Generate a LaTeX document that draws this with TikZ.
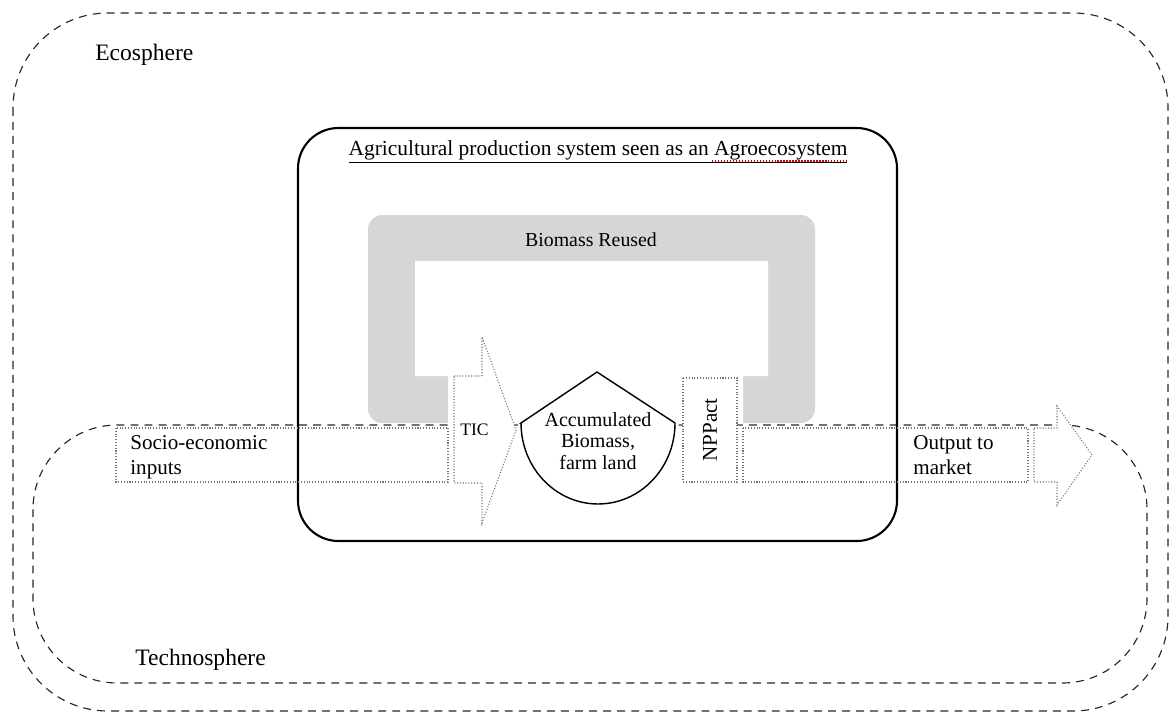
\documentclass[tikz,border=0pt]{standalone}
\usepackage{fontspec}
\setmainfont{Liberation Serif}
\usetikzlibrary{calc}
\tikzset{
    sphere/.style = {dash pattern=on 4.5pt off 3.5pt, line width=0.65pt, black!85},
    flowbox/.style = {densely dotted, line width=0.6pt, black!55},
    txt/.style = {font=\fontsize{12}{14.2}\selectfont, align=left, inner sep=0pt},
    bigtxt/.style = {txt, font=\fontsize{13.4}{16}\selectfont},
}
\definecolor{reusegray}{RGB}{214,214,214}

\begin{document}
\begin{tikzpicture}[x=0.02cm,y=-0.02cm]
\useasboundingbox (0,0) rectangle (1169,713);

% ecosphere and technosphere
\draw[sphere,rounded corners=54pt] (13,13) rectangle (1168,711);
\draw[sphere,rounded corners=48pt] (33,425) rectangle (1147,683);
\node[bigtxt,anchor=west] (eco) at (95,55) {Ecosphere};
\node[bigtxt,anchor=west] (techno) at (135,660) {Technosphere};

% agroecosystem
\draw[line width=1.2pt,rounded corners=23pt] (298,128) rectangle (897,541);
\node[txt,anchor=base,font=\fontsize{12.2}{14}\selectfont] (title) at (598,155) {\underline{Agricultural production system seen as an Agroecosystem}};
\draw[red!80!black,densely dotted,line width=0.7pt] ($(title.base east)+(-136,6)$) -- ($(title.base east)+(0,6)$);

% biomass reused loop
\fill[reusegray,rounded corners=8pt] (368,215) rectangle (815,423);
\fill[white] (415,261) -- (768,261) -- (768,376) -- (743,376) -- (743,424)
  -- (448,424) -- (448,376) -- (415,376) -- cycle;
\node[txt,font=\fontsize{11.3}{13}\selectfont] (reused) at (591,240) {Biomass Reused};

% inputs
\draw[flowbox] (116,428) rectangle (448,482);
\node[txt,anchor=west] (inputs) at (130,457) {Socio-economic\\inputs};

% TIC
\draw[flowbox,fill=white] (454,376) -- (482,376) -- (482,337) -- (516,430)
  -- (482,523) -- (482,483) -- (454,483) -- cycle;
\node[txt,anchor=west,font=\fontsize{10}{12}\selectfont] (tic) at (460,430) {TIC};

% accumulated biomass
\draw[line width=0.8pt,fill=white] (521,423) -- (597,372) -- (675,423)
  arc[start angle=0,end angle=-180,x radius=1.54cm,y radius=1.62cm] -- cycle;
\node[txt,align=center,font=\fontsize{11.4}{12.2}\selectfont] (biomass) at (598,441) {Accumulated\\Biomass,\\farm land};

% NPPact
\draw[flowbox,fill=white] (683,378) rectangle (737,482);
\node[txt,rotate=90] (npp) at (710,430) {NPPact};

% output
\draw[flowbox] (743,428) rectangle (1028,482);
\node[txt,anchor=west] (output) at (913,455) {Output to\\market};
\draw[flowbox,fill=white] (1034,428) -- (1057,428) -- (1057,406) -- (1092,455)
  -- (1057,505) -- (1057,482) -- (1034,482) -- cycle;

\end{tikzpicture}
\end{document}
